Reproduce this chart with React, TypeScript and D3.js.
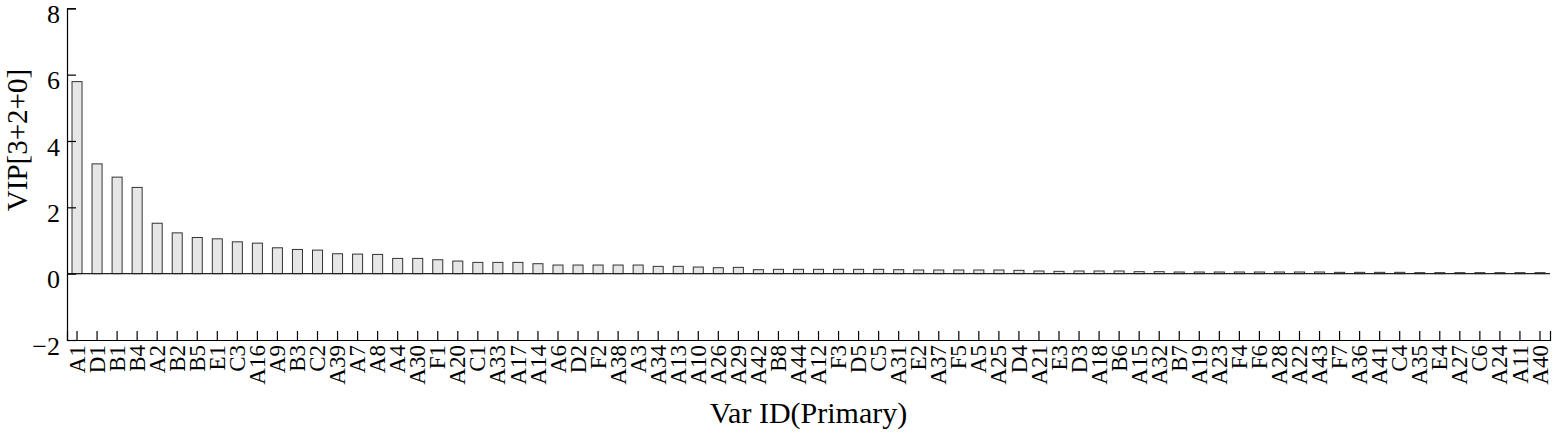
import { useEffect, useRef } from "react";
import * as d3 from "d3";

// variable ids, sorted by VIP
const varIds = [
  "A1", "D1", "B1", "B4", "A2", "B2", "B5", "E1", "C3", "A16",
  "A9", "B3", "C2", "A39", "A7", "A8", "A4", "A30", "F1", "A20",
  "C1", "A33", "A17", "A14", "A6", "D2", "F2", "A38", "A3", "A34",
  "A13", "A10", "A26", "A29", "A42", "B8", "A44", "A12", "F3", "D5",
  "C5", "A31", "E2", "A37", "F5", "A5", "A25", "D4", "A21", "E3",
  "D3", "A18", "B6", "A15", "A32", "B7", "A19", "A23", "F4", "F6",
  "A28", "A22", "A43", "F7", "A36", "A41", "C4", "A35", "E4", "A27",
  "C6", "A24", "A11", "A40",
];

const vipValues = [
  5.79, 3.31, 2.91, 2.6, 1.52, 1.23, 1.09, 1.05, 0.96, 0.92,
  0.78, 0.73, 0.71, 0.6, 0.59, 0.58, 0.46, 0.46, 0.42, 0.38,
  0.34, 0.34, 0.34, 0.3, 0.26, 0.26, 0.26, 0.26, 0.26, 0.22,
  0.22, 0.2, 0.18, 0.19, 0.12, 0.13, 0.13, 0.13, 0.13, 0.13,
  0.13, 0.12, 0.11, 0.11, 0.11, 0.11, 0.11, 0.1, 0.08, 0.07,
  0.08, 0.08, 0.08, 0.06, 0.06, 0.05, 0.05, 0.05, 0.05, 0.05,
  0.05, 0.05, 0.05, 0.04, 0.04, 0.04, 0.04, 0.03, 0.03, 0.03,
  0.03, 0.03, 0.03, 0.03,
];

const yTicks = [-2, 0, 2, 4, 6, 8];

const W = 1555;
const H = 434;
const FONT = "\"Liberation Serif\", \"Times New Roman\", Times";

export default function App() {
  const svgRef = useRef<SVGSVGElement>(null);

  useEffect(() => {
    if (!svgRef.current) return;
    const svg = d3.select(svgRef.current);
    svg.selectAll("*").remove();

    const left = 67, right = 1550, top = 8.3, bottom = 340;

    const x = d3.scaleBand<string>()
      .domain(varIds)
      .range([left, right])
      .paddingInner(0.5)
      .paddingOuter(0.25);

    const y = d3.scaleLinear().domain([-2, 8]).range([bottom, top]);

    // bars
    svg.append("g")
      .selectAll("rect")
      .data(varIds)
      .enter()
      .append("rect")
      .attr("x", d => x(d)!)
      .attr("width", x.bandwidth())
      .attr("y", (d, i) => y(vipValues[i]))
      .attr("height", (d, i) => y(0) - y(vipValues[i]))
      .attr("fill", "#e6e6e6")
      .attr("stroke", "#333")
      .attr("stroke-width", 1);

    // zero line
    svg.append("line")
      .attr("x1", left)
      .attr("x2", right)
      .attr("y1", y(0))
      .attr("y2", y(0))
      .attr("stroke", "#222")
      .attr("stroke-width", 1.2);

    // y axis
    const yAxis = svg.append("g")
      .attr("transform", `translate(${left},0)`)
      .call(d3.axisLeft(y).tickValues(yTicks).tickSize(-9).tickPadding(7));
    yAxis.attr("font-family", null);
    yAxis.selectAll("text")
      .style("font-family", FONT)
      .style("font-size", "26px")
      .attr("fill", "#000")
      .attr("y", 6);

    // x axis
    const xAxis = svg.append("g")
      .attr("transform", `translate(0,${bottom})`)
      .call(d3.axisBottom(x).tickSizeInner(-9).tickSizeOuter(-9));
    xAxis.attr("font-family", null);
    xAxis.selectAll(".tick text")
      .style("font-family", FONT)
      .style("font-size", "23px")
      .attr("fill", "#000")
      .attr("text-anchor", "end")
      .attr("transform", "rotate(-90)")
      .attr("x", -5)
      .attr("y", 0)
      .attr("dy", "0.33em");

    svg.selectAll(".domain, .tick line")
      .attr("stroke", "#000")
      .attr("stroke-width", 1.2);

    // titles
    svg.append("text")
      .attr("x", (left + right) / 2)
      .attr("y", 423)
      .attr("text-anchor", "middle")
      .style("font-family", FONT)
      .style("font-size", "30px")
      .text("Var ID(Primary)");

    svg.append("text")
      .attr("transform", `translate(27,140) rotate(-90)`)
      .attr("text-anchor", "middle")
      .style("font-family", FONT)
      .style("font-size", "29px")
      .text("VIP[3+2+0]");
  }, []);

  return (
    <div style={{ position: "absolute", left: 0, top: 0 }}>
      <svg ref={svgRef} width={W} height={H} style={{ display: "block", background: "#fff" }} />
    </div>
  );
}
